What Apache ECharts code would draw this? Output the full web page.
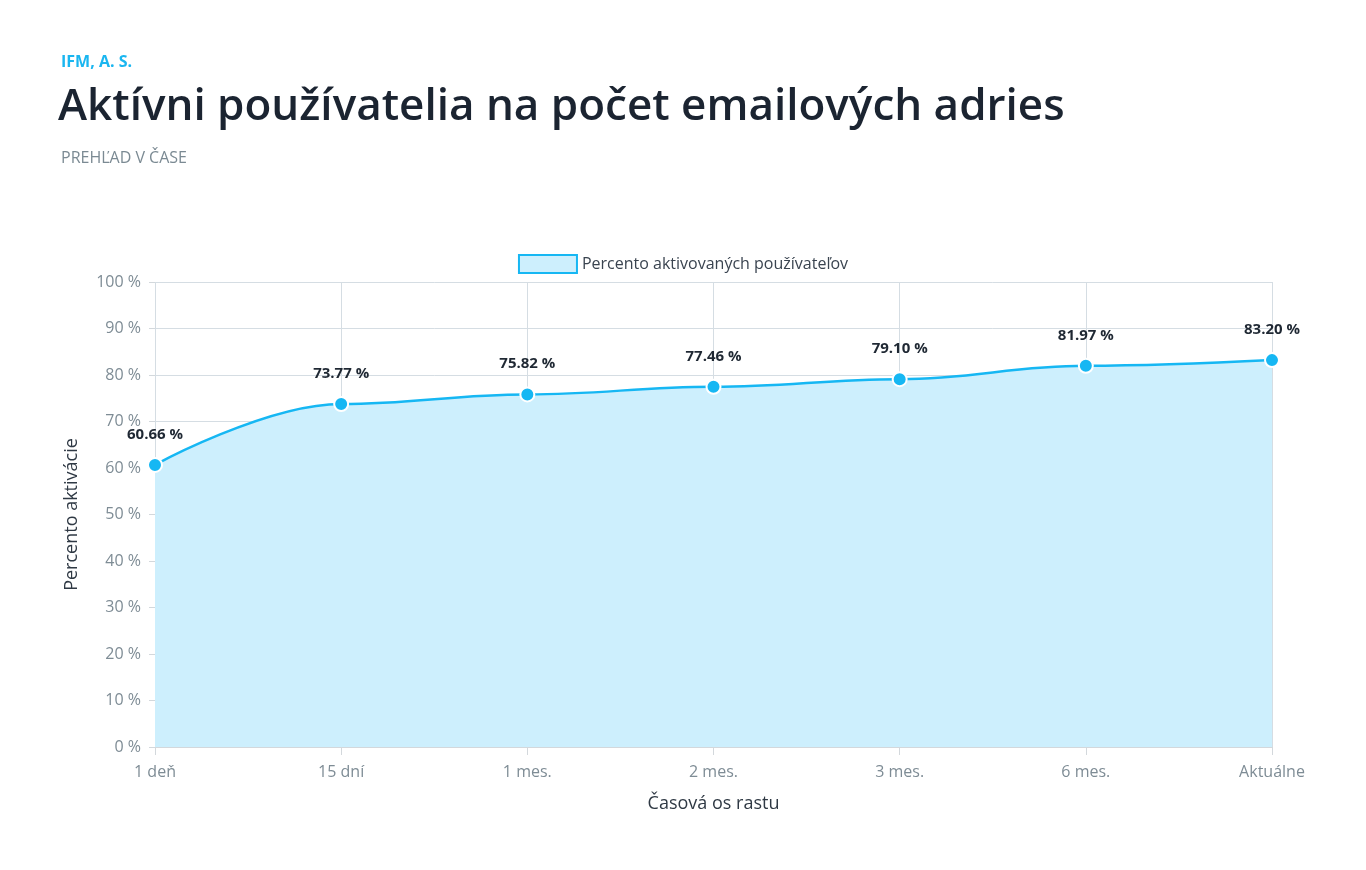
<!DOCTYPE html>
<html>
<head>
<meta charset="utf-8">
<script src="https://cdn.jsdelivr.net/npm/echarts@6/dist/echarts.min.js"></script>
<style>
html,body{margin:0;padding:0;background:#fff;}
#c{width:1366px;height:870px;}
</style>
</head>
<body>
<div id="c"></div>
<script>
const categories = ['1 deň', '15 dní', '1 mes.', '2 mes.', '3 mes.', '6 mes.', 'Aktuálne'];
const activationPct = [60.66, 73.77, 75.82, 77.46, 79.10, 81.97, 83.20];
const seriesName = 'Percento aktivovaných používateľov';

const chart = echarts.init(document.getElementById('c'));
const FONT = '"Open Sans", "Noto Sans", sans-serif';
chart.setOption({
  backgroundColor: '#ffffff',
  textStyle: { fontFamily: FONT },
  title: [
    { text: 'IFM, A. S.', left: 56, top: 49, textStyle: { fontFamily: FONT, fontSize: 16, fontWeight: 'bold', color: '#1ab6f0' } },
    { text: 'Aktívni používatelia na počet emailových adries', left: 53, top: 80, textStyle: { fontFamily: FONT, fontSize: 44, fontWeight: 600, color: '#1b2431' } },
    { text: 'PREHĽAD V ČASE', left: 56, top: 145, textStyle: { fontFamily: FONT, fontSize: 16, fontWeight: 'normal', color: '#7b8a93' } }
  ],
  legend: {
    top: 249,
    left: 'center',
    itemWidth: 58,
    itemHeight: 18,
    itemGap: 10,
    icon: 'rect',
    textStyle: { fontFamily: FONT, fontSize: 16, color: '#3a4450' },
    data: [{ name: seriesName, itemStyle: { color: '#cdeffd', borderColor: '#16b7f3', borderWidth: 2 } }]
  },
  grid: { left: 155, right: 94, top: 282, bottom: 123, containLabel: false },
  xAxis: {
    type: 'category',
    data: categories,
    boundaryGap: false,
    name: 'Časová os rastu',
    nameLocation: 'middle',
    nameGap: 48,
    nameTextStyle: { fontFamily: FONT, fontSize: 18, color: '#2f3944' },
    axisLine: { lineStyle: { color: '#d3d8dc', width: 1 } },
    axisTick: { show: true, length: 8, lineStyle: { color: '#d3d8dc' } },
    axisLabel: { fontFamily: FONT, fontSize: 16, color: '#7e8c95', margin: 17 },
    splitLine: { show: true, lineStyle: { color: '#d5dde3', width: 1 } }
  },
  yAxis: {
    type: 'value',
    min: 0,
    max: 100,
    interval: 10,
    name: 'Percento aktivácie',
    nameLocation: 'middle',
    nameGap: 74,
    nameTextStyle: { fontFamily: FONT, fontSize: 18, color: '#2f3944' },
    axisLine: { show: false },
    axisTick: { show: true, length: 6, lineStyle: { color: '#d3d8dc' } },
    axisLabel: { fontFamily: FONT, fontSize: 16, color: '#7e8c95', margin: 14, formatter: '{value} %' },
    splitLine: { show: true, lineStyle: { color: '#d5dde3', width: 1 } }
  },
  series: [{
    name: seriesName,
    type: 'line',
    data: activationPct,
    smooth: 0.4,
    smoothMonotone: 'x',
    symbol: 'circle',
    symbolSize: 14,
    lineStyle: { color: '#16b7f3', width: 2.5 },
    itemStyle: { color: '#16b7f3', borderColor: '#ffffff', borderWidth: 2 },
    areaStyle: { color: '#cdeffd', opacity: 1 },
    label: {
      show: true,
      position: 'top',
      distance: 15,
      fontFamily: FONT,
      fontSize: 15,
      fontWeight: 'bold',
      color: '#1f2833',
      formatter: p => p.value.toFixed(2) + ' %'
    },
    emphasis: { disabled: true }
  }]
});
</script>
</body>
</html>
